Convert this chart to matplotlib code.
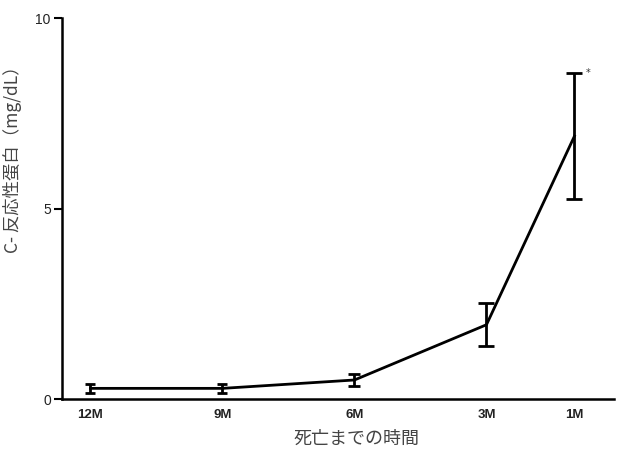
import matplotlib.pyplot as plt

# months before death, mean CRP and error
months = [12, 9, 6, 3, 1]
labels = ["12M", "9M", "6M", "3M", "1M"]
crp = [0.28, 0.28, 0.5, 1.95, 6.9]
err = [0.12, 0.12, 0.15, 0.56, 1.65]
caps = [3.5, 3.5, 4.5, 6, 6]

jp = ["Noto Sans CJK JP", "DejaVu Sans"]

fig = plt.figure(figsize=(6.19, 4.55), dpi=100)
ax = fig.add_axes([0.1, 0.123, 0.892, 0.8374])

ax.plot(months, crp, color="black", lw=2, zorder=3)
for m, v, e, c in zip(months, crp, err, caps):
    ax.errorbar(m, v, yerr=e, fmt="none", ecolor="black",
                elinewidth=2, capsize=c, capthick=2, zorder=3)

# significance mark next to the 1M bar
ax.text(months[-1] - 0.25, crp[-1] + err[-1], "*", fontsize=7,
        ha="left", va="center", color="#333333")

ax.set_xlim(12.65, 0.1)
ax.set_ylim(0, 10)
ax.set_xticks(months)
ax.set_xticklabels(labels, fontfamily="Liberation Sans", fontweight="bold",
                   fontsize=9.5, color="#222222")
ax.set_yticks([0, 5, 10])
ax.set_yticklabels(["0", "5", "10"], fontfamily="Liberation Sans",
                   fontsize=10, color="#222222")
ax.tick_params(axis="x", length=0, pad=7)
ax.tick_params(axis="y", length=6, width=1.5, pad=2)

for s in ["top", "right"]:
    ax.spines[s].set_visible(False)
for s in ["left", "bottom"]:
    ax.spines[s].set_linewidth(1.8)

ax.set_xlabel("死亡までの時間", family=jp, fontsize=13, color="#444444")
ax.xaxis.set_label_coords(0.534, -0.08)
ax.set_ylabel("C- 反応性蛋白（mg/dL）", family=jp, fontsize=12.5,
              color="#444444")
ax.yaxis.set_label_coords(-0.072, 0.64)

fig.savefig("out.png", dpi=100)
